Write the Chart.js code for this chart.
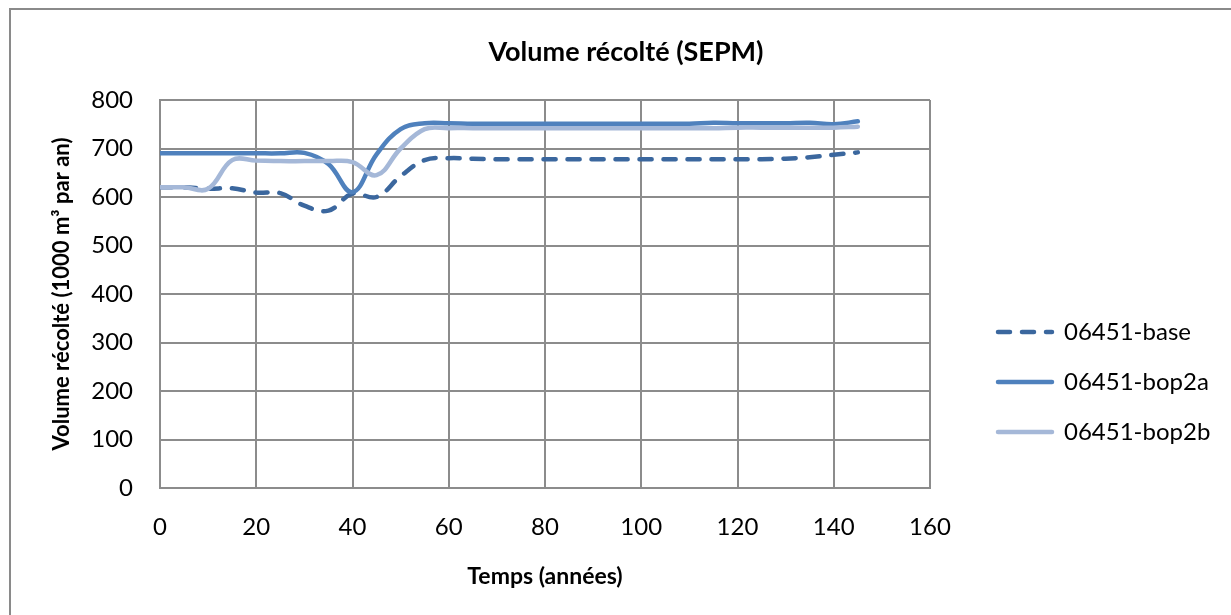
<!DOCTYPE html>
<html><head><meta charset="utf-8">
<script src="https://cdn.jsdelivr.net/npm/chart.js@4.4.1/dist/chart.umd.min.js"></script>
<style>
html,body{margin:0;padding:0;background:#fff;overflow:hidden;width:1231px;height:615px;}
#frame{position:absolute;left:9px;top:8px;width:1400px;height:800px;border-left:2px solid #8a8a8a;border-top:2px solid #8a8a8a;}
#wrap{position:absolute;left:0;top:0;width:1231px;height:615px;}
</style></head><body>
<div id="frame"></div>
<div id="wrap"><canvas id="c" width="1231" height="615"></canvas></div>
<script>
// ---- data ----
const years = [0,5,10,15,20,25,30,35,40,45,50,55,60,65,70,75,80,85,90,95,100,105,110,115,120,125,130,135,140,145];
const base  = [620,620,617,618,609,608,582,572,607,600,643,676,680,679,678,678,678,678,678,678,678,678,678,678,678,678,679,682,687,692];
const bop2a = [690,690,690,690,690,690,691,668,610,688,740,752,752,751,751,751,751,751,751,751,751,751,751,753,752,752,752,753,750,756];
const bop2b = [620,620,617,676,675,674,674,674,672,645,700,740,742,742,742,742,742,742,742,742,742,742,742,742,743,743,743,743,743,745];
const seriesNames = ['06451-base','06451-bop2a','06451-bop2b'];
const xTicks = {min:0, max:160, step:20};
const yTicks = {min:0, max:800, step:100};

const C_BASE = '#3b679e', C_A = '#4f81bd', C_B = '#a5b8d8';
const GRID = '#8c8c8c';
const FONT = 'Lato, "Open Sans", sans-serif';

const toPts = arr => years.map((x,i)=>({x, y: arr[i]}));

const boxPlacer = {
  id:'boxPlacer',
  afterLayout(chart){
    const lg = chart.legend;
    if (lg) {
      const pad = lg.options.labels.padding;
      const left = 998 - pad, top = 320 - pad;
      lg.left = left; lg.right = left + lg.width;
      lg.top = top; lg.bottom = 615; lg.height = 615 - top;
    }
    const tb = chart.titleBlock;
    if (tb) { tb.left = 0; tb.right = 1252; tb.width = 1252; }
  }
};

const chart = new Chart(document.getElementById('c'), {
  type:'line',
  data:{ datasets:[
    {label:seriesNames[0], data:toPts(base), borderColor:C_BASE, backgroundColor:C_BASE, borderWidth:4.5, borderDash:[12,12], borderCapStyle:'round', pointRadius:0, tension:0.4, fill:false, order:3},
    {label:seriesNames[1], data:toPts(bop2a), borderColor:C_A, backgroundColor:C_A, borderWidth:4.5, borderCapStyle:'round', pointRadius:0, tension:0.4, fill:false, order:2},
    {label:seriesNames[2], data:toPts(bop2b), borderColor:C_B, backgroundColor:C_B, borderWidth:4.5, borderCapStyle:'round', pointRadius:0, tension:0.4, fill:false, order:1}
  ]},
  options:{
    responsive:false, animation:false, devicePixelRatio:1,
    layout:{padding:{left:0,top:0,bottom:0,right:0}},
    plugins:{
      tooltip:{enabled:false},
      title:{display:true, text:'Volume récolté (SEPM)', color:'#000', font:{family:FONT, size:27, weight:'bold'}, padding:{top:36,bottom:31.6}},
      legend:{
        position:'right', align:'start',
        labels:{
          usePointStyle:true, pointStyle:'line', pointStyleWidth:54, padding:26, color:'#000',
          font:{family:FONT, size:24},
          sort:(a,b)=>a.datasetIndex-b.datasetIndex,
          generateLabels(ch){
            const items = Chart.defaults.plugins.legend.labels.generateLabels(ch);
            items.forEach(it=>{const ds=ch.data.datasets[it.datasetIndex]; it.lineDash=ds.borderDash||[]; it.lineCap=ds.borderCapStyle; it.lineWidth=ds.borderWidth; it.strokeStyle=ds.borderColor;});
            return items;
          }
        }
      }
    },
    scales:{
      x:{type:'linear', min:xTicks.min, max:xTicks.max,
        ticks:{stepSize:xTicks.step, color:'#000', font:{family:FONT,size:24}, padding:24.6},
        grid:{color:GRID, lineWidth:2, drawTicks:false},
        border:{color:GRID, width:2},
        title:{display:true, text:'Temps (années)', color:'#000', font:{family:FONT,size:23,weight:'bold'}, padding:{top:0,bottom:25}},
        afterFit(s){ s.height = 127; }
      },
      y:{min:yTicks.min, max:yTicks.max,
        ticks:{stepSize:yTicks.step, color:'#000', font:{family:FONT,size:24}, padding:27},
        grid:{color:GRID, lineWidth:2, drawTicks:false},
        border:{color:GRID, width:2},
        title:{display:true, text:'Volume récolté (1000 m³ par an)', color:'#000', font:{family:FONT,size:22,weight:'bold'}, padding:{top:49,bottom:0}},
        afterFit(s){ s.width = 160; }
      }
    }
  },
  plugins:[boxPlacer]
});
const d = chart.chartArea.right - 930;
if (Math.abs(d) > 0.3) { chart.options.layout.padding = {left:0,top:0,bottom:0,right:d}; chart.update(); }
</script>
</body></html>
